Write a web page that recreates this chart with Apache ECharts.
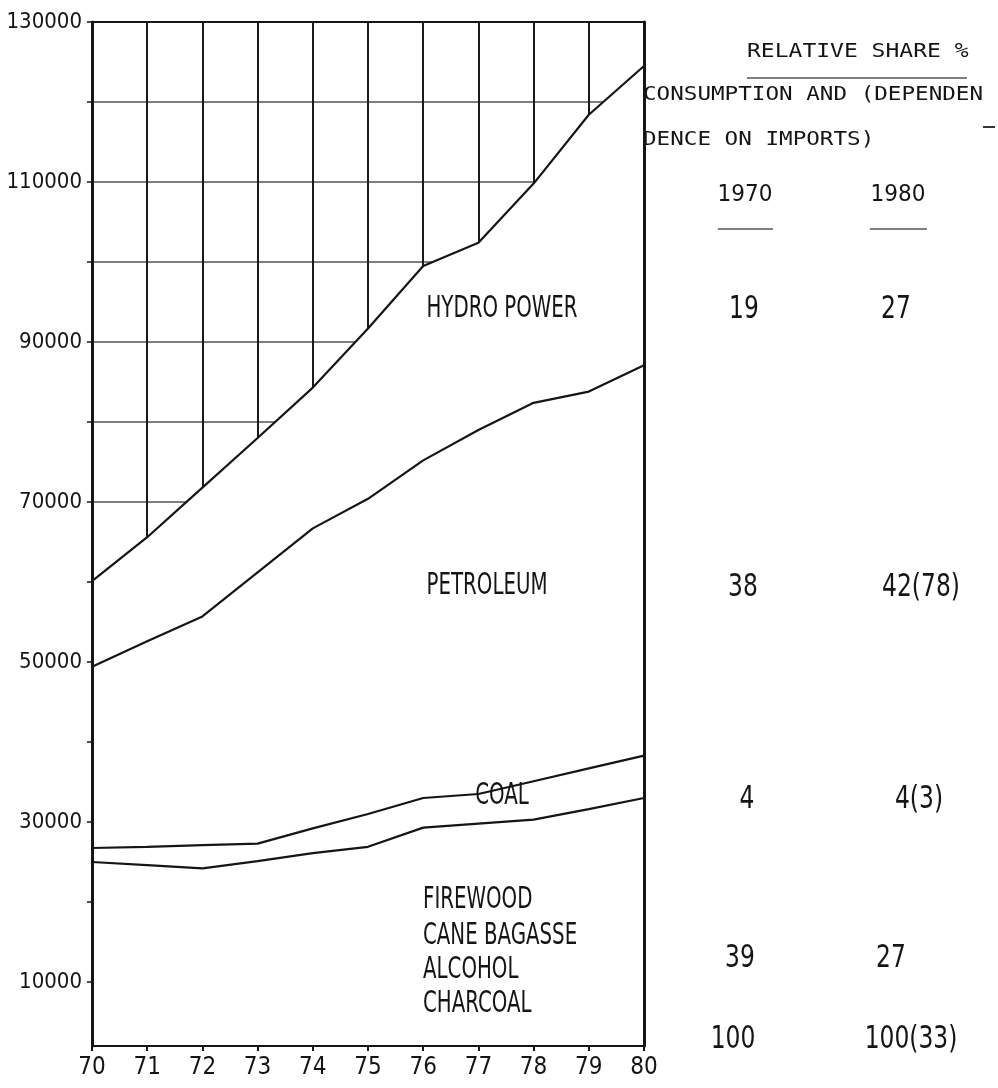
<!DOCTYPE html>
<html>
<head>
<meta charset="utf-8">
<script src="https://cdn.jsdelivr.net/npm/echarts@6/dist/echarts.min.js"></script>
<style>
html,body{margin:0;padding:0;background:#fff;}
#chart{width:998px;height:1088px;}
</style>
</head>
<body>
<div id="chart"></div>
<script>
// ---- data (cumulative boundaries) ----
const years = [70, 71, 72, 73, 74, 75, 76, 77, 78, 79, 80];
const firewoodTop  = [25000, 24600, 24200, 25100, 26100, 26900, 29300, 29800, 30300, 31600, 33000];
const coalTop      = [26750, 26900, 27100, 27300, 29200, 31000, 33000, 33500, 35100, 36700, 38300];
const petroleumTop = [49400, 52600, 55700, 61200, 66700, 70400, 75200, 79000, 82400, 83800, 87100];
const hydroTop     = [60100, 65600, 71800, 78000, 84300, 91700, 99500, 102400, 109800, 118400, 124500];
const yTickValues  = [10000, 20000, 30000, 40000, 50000, 60000, 70000, 80000, 90000, 100000, 110000, 120000, 130000];
const yLabelValues = [10000, 30000, 50000, 70000, 90000, 110000, 130000];
const regionNames  = ['HYDRO POWER', 'PETROLEUM', 'COAL'];
const woodLines    = ['FIREWOOD', 'CANE BAGASSE', 'ALCOHOL', 'CHARCOAL'];
const share1970    = ['19', '38', '4', '39', '100'];
const share1980    = ['27', '42(78)', '4(3)', '27', '100(33)'];
const headerLines  = ['RELATIVE SHARE %', 'CONSUMPTION AND (DEPENDEN', 'DENCE ON IMPORTS)'];
const yearHeads    = ['1970', '1980'];

const NARROW = "'Liberation Sans Narrow', 'DejaVu Sans Condensed', 'Roboto Condensed', sans-serif";
const MONO = "'DejaVu Sans Mono', 'Liberation Mono', monospace";
const INK = '#151515';

function pairs(arr) { return years.map((y, i) => [y, arr[i]]); }

function txt(text, x, y, o) {
  o = o || {};
  const align = o.align || 'center';
  return {
    type: 'text', x: x, y: y, scaleX: o.sx || 1, scaleY: o.sy || 1, z: 100,
    style: {
      text: text, fill: INK,
      fontSize: o.size || 22, fontFamily: o.family || NARROW,
      align: align, textAlign: align,
      verticalAlign: 'middle', textVerticalAlign: 'middle'
    }
  };
}
function hline(x1, x2, y, w, c) {
  return { type: 'line', z: 100, shape: { x1: x1, y1: y, x2: x2, y2: y },
           style: { stroke: c || '#444', lineWidth: w || 1.5 } };
}

const chart = echarts.init(document.getElementById('chart'), null, { renderer: 'canvas' });

const lineSeries = (arr, name) => ({
  type: 'line', name: name, xAxisIndex: 0, yAxisIndex: 0,
  data: pairs(arr), symbol: 'none', smooth: false, z: 3, silent: true,
  lineStyle: { color: INK, width: 2.2 }
});

const graphics = [];
// in-plot region labels
graphics.push(txt(regionNames[0], 502, 309, { sy: 1.35 }));
graphics.push(txt(regionNames[1], 487, 586, { sy: 1.35 }));
graphics.push(txt(regionNames[2], 502, 796, { sy: 1.35 }));
const woodY = [900, 936, 970, 1004];
woodLines.forEach((t, i) => graphics.push(txt(t, 423, woodY[i], { align: 'left', sy: 1.35 })));

// right panel header
graphics.push(txt(headerLines[0], 747, 52, { align: 'left', family: MONO, size: 23, sy: 0.86 }));
graphics.push(hline(747, 967, 78, 1.5, '#555'));
graphics.push(txt(headerLines[1], 643, 95, { align: 'left', family: MONO, size: 22.6, sy: 0.86 }));
graphics.push(hline(983, 995, 127, 2, '#333'));
graphics.push(txt(headerLines[2], 643, 140, { align: 'left', family: MONO, size: 22.6, sy: 0.86 }));
graphics.push(txt(yearHeads[0], 745, 195, { size: 24, sy: 0.95 }));
graphics.push(txt(yearHeads[1], 898, 195, { size: 24, sy: 0.95 }));
graphics.push(hline(718, 773, 229, 1.5, '#555'));
graphics.push(hline(870, 927, 229, 1.5, '#555'));

// right panel values
const rowY = [310, 588, 800, 959, 1040];
const col1X = [744, 743, 747, 740, 733];
const col2X = [896, 921, 919, 891, 911];
share1970.forEach((t, i) => graphics.push(txt(t, col1X[i], rowY[i], { size: 26, sy: 1.2 })));
share1980.forEach((t, i) => graphics.push(txt(t, col2X[i], rowY[i], { size: 26, sy: 1.2 })));

const option = {
  backgroundColor: '#fff',
  animation: false,
  grid: { left: 92, right: 354, top: 22, bottom: 42, containLabel: false, outerBoundsMode: 'none' },
  xAxis: [
    { type: 'value', min: 70, max: 80, interval: 1, z: 0,
      axisLine: { show: false }, axisTick: { show: false }, axisLabel: { show: false },
      splitLine: { show: true, lineStyle: { color: '#1a1a1a', width: 2 } } },
    { type: 'value', position: 'bottom', min: 70, max: 80, interval: 1, z: 5,
      axisLine: { show: true, onZero: false, lineStyle: { color: INK, width: 2 } },
      axisTick: { show: true, inside: false, length: 5, lineStyle: { color: INK, width: 2 } },
      axisLabel: { show: true, margin: 10, fontSize: 24, fontFamily: NARROW, color: INK,
                   formatter: v => String(v) },
      splitLine: { show: false } },
    { type: 'value', position: 'top', min: 70, max: 80, interval: 1, z: 5,
      axisLine: { show: true, onZero: false, lineStyle: { color: INK, width: 2 } },
      axisTick: { show: false }, axisLabel: { show: false }, splitLine: { show: false } }
  ],
  yAxis: [
    { type: 'value', min: 2000, max: 130000, z: 0,
      axisLine: { show: false },
      axisTick: { show: false, customValues: yTickValues },
      axisLabel: { show: false, customValues: yLabelValues },
      splitLine: { show: true, lineStyle: { color: '#555', width: 1.5 } } },
    { type: 'value', position: 'left', min: 2000, max: 130000, z: 5,
      axisLine: { show: true, onZero: false, lineStyle: { color: INK, width: 3 } },
      axisTick: { show: true, inside: false, length: 5, customValues: yTickValues,
                  lineStyle: { color: INK, width: 1.5 } },
      axisLabel: { show: true, customValues: yLabelValues, margin: 10, fontSize: 22,
                   fontFamily: NARROW, color: INK, formatter: v => String(v) },
      splitLine: { show: false } },
    { type: 'value', position: 'right', min: 2000, max: 130000, z: 5,
      axisLine: { show: true, onZero: false, lineStyle: { color: INK, width: 3 } },
      axisTick: { show: false }, axisLabel: { show: false }, splitLine: { show: false } }
  ],
  series: [
    { type: 'line', name: 'cover', xAxisIndex: 0, yAxisIndex: 0, data: pairs(hydroTop),
      symbol: 'none', z: 1, silent: true, lineStyle: { width: 0, opacity: 0 },
      areaStyle: { color: '#ffffff', opacity: 1, origin: 'start' } },
    lineSeries(hydroTop, 'Hydro power'),
    lineSeries(petroleumTop, 'Petroleum'),
    lineSeries(coalTop, 'Coal'),
    lineSeries(firewoodTop, 'Firewood etc.')
  ],
  graphic: graphics
};
chart.setOption(option);
</script>
</body>
</html>
